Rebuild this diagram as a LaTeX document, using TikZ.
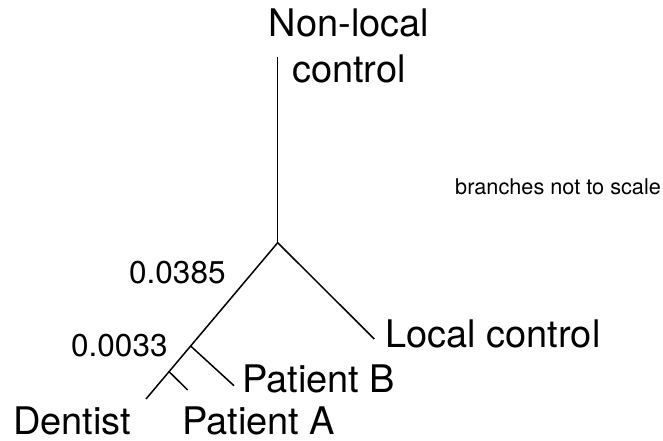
\documentclass[tikz,border=0pt]{standalone}
\usepackage{fontspec}
\setmainfont{TeX Gyre Heros}
\usetikzlibrary{calc}

\begin{document}
\begin{tikzpicture}[x=1pt, y=-1pt,
    branch/.style={line width=1.5pt, black},
    taxon/.style={inner sep=0pt, anchor=base west, font=\fontsize{38}{46}\selectfont},
    dist/.style={inner sep=0pt, anchor=base west, font=\fontsize{31.5}{37}\selectfont}]
\useasboundingbox (0,0) rectangle (663,440);
% tree points
\coordinate (root) at (277.7,242.7);
\coordinate (nonlocalend) at (277.7,56.7);
\coordinate (localend) at (374.3,339);
\coordinate (dentistend) at (146,399);
\coordinate (splitB) at ($(root)!0.661!(dentistend)$);
\coordinate (splitA) at ($(root)!0.825!(dentistend)$);
\coordinate (patientBend) at (234,385.7);
\coordinate (patientAend) at (187.7,390);
% branches
\draw [branch] (root) -- (nonlocalend);
\draw [branch] (root) -- (localend);
\draw [branch] (root) -- (dentistend);
\draw [branch] (splitB) -- (patientBend);
\draw [branch] (splitA) -- (patientAend);
% labels
\node[taxon, anchor=north, align=center] (nonlocal) at (349,9) {Non-local\\control};
\node[taxon] (local) at (385,347) {Local control};
\node[taxon] (patientB) at (242,392) {Patient B};
\node[taxon] (patientA) at (182,434) {Patient A};
\node[taxon] (dentist) at (13,434) {Dentist};
\node[dist] (dtop) at (129,283) {0.0385};
\node[dist] (dsub) at (71,356) {0.0033};
\node[inner sep=0pt, anchor=base west, font=\fontsize{21.7}{25}\selectfont] (note) at (455,194) {branches not to scale};
\end{tikzpicture}
\end{document}
